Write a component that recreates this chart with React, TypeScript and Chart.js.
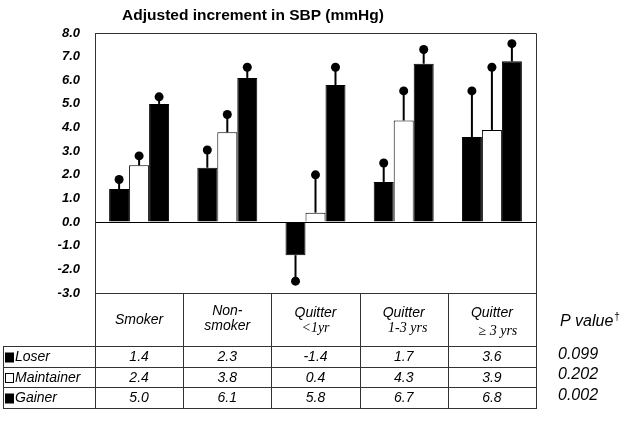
import React, { useEffect, useRef } from "react";
import { Chart, registerables } from "chart.js";
Chart.register(...registerables);

const categories = ["Smoker", "Non-smoker", "Quitter <1yr", "Quitter 1-3 yrs", "Quitter ≥3 yrs"];
const headerMain = [["Smoker"], ["Non-", "smoker"], ["Quitter"], ["Quitter"], ["Quitter"]];
const headerSub = ["", "", "<1yr", "1-3 yrs", "≥ 3 yrs"];
const seriesNames = ["Loser", "Maintainer", "Gainer"];
const loser = [1.4, 2.3, -1.4, 1.7, 3.6];
const maintainer = [2.4, 3.8, 0.4, 4.3, 3.9];
const gainer = [5.0, 6.1, 5.8, 6.7, 6.8];
const loserErr = [1.8, 3.05, -2.5, 2.5, 5.55];
const maintainerErr = [2.8, 4.55, 2.0, 5.55, 6.55];
const gainerErr = [5.3, 6.55, 6.55, 7.3, 7.55];
const pValues = ["0.099", "0.202", "0.002"];
const title = "Adjusted increment in SBP (mmHg)";
const pHeader = "P value";

const SANS = 'Arial, "Liberation Sans", sans-serif';
const SERIF = '"Times New Roman", "Liberation Serif", serif';

const errs = [loserErr, maintainerErr, gainerErr];
const seriesValues = [loser, maintainer, gainer];
const fills = ["#000", "#fff", "#000"];

const overlay = {
  id: "overlay",
  afterDatasetsDraw(chart: any) {
    const ctx = chart.ctx;
    const y = chart.scales.y;
    ctx.save();
    chart.data.datasets.forEach((ds: any, di: number) => {
      const meta = chart.getDatasetMeta(di);
      meta.data.forEach((bar: any, i: number) => {
        const e = errs[di][i];
        const y0 = bar.y;
        const y1 = y.getPixelForValue(e);
        ctx.strokeStyle = "#000";
        ctx.lineWidth = 2;
        ctx.beginPath();
        ctx.moveTo(bar.x, y0);
        ctx.lineTo(bar.x, y1);
        ctx.stroke();
        ctx.fillStyle = "#000";
        ctx.beginPath();
        ctx.arc(bar.x, y1, 4.5, 0, Math.PI * 2);
        ctx.fill();
      });
    });
    ctx.restore();
  },
  afterDraw(chart: any) {
    const ctx = chart.ctx;
    const a = chart.chartArea;
    ctx.save();
    // plot box
    ctx.strokeStyle = "#333";
    ctx.lineWidth = 1;
    ctx.beginPath();
    ctx.moveTo(a.left + 0.5, a.top + 0.5);
    ctx.lineTo(a.right + 0.5, a.top + 0.5);
    ctx.lineTo(a.right + 0.5, a.bottom + 0.5);
    ctx.stroke();
    // title
    ctx.fillStyle = "#000";
    ctx.font = `bold 15.5px ${SANS}`;
    ctx.textAlign = "center";
    ctx.textBaseline = "middle";
    ctx.fillText(title, 253, 16);

    // table
    const n = categories.length;
    const cw = (a.right - a.left) / n;
    const hTop = a.bottom;
    const rowTops = [346, 367, 387];
    const tBottom = 408;
    const tLeft = 3;
    ctx.strokeStyle = "#333";
    ctx.lineWidth = 1;
    ctx.beginPath();
    // horizontal lines
    ctx.moveTo(a.left, hTop + 0.5);
    ctx.lineTo(a.right + 1, hTop + 0.5);
    rowTops.forEach((t) => {
      ctx.moveTo(tLeft, t + 0.5);
      ctx.lineTo(a.right + 1, t + 0.5);
    });
    ctx.moveTo(tLeft, tBottom + 0.5);
    ctx.lineTo(a.right + 1, tBottom + 0.5);
    // vertical lines
    for (let i = 0; i <= n; i++) {
      const x = Math.round(a.left + i * cw) + 0.5;
      ctx.moveTo(x, hTop);
      ctx.lineTo(x, tBottom + 1);
    }
    ctx.moveTo(tLeft + 0.5, rowTops[0]);
    ctx.lineTo(tLeft + 0.5, tBottom + 1);
    ctx.stroke();

    // header text
    ctx.fillStyle = "#000";
    ctx.textAlign = "center";
    ctx.textBaseline = "middle";
    for (let i = 0; i < n; i++) {
      const cx = a.left + (i + 0.5) * cw;
      const lines = headerMain[i];
      ctx.font = `italic 14px ${SANS}`;
      if (headerSub[i]) {
        ctx.fillText(lines[0], cx, 313);
        ctx.font = `italic 14px ${SERIF}`;
        ctx.fillText(headerSub[i], cx + (i === 4 ? 6 : i === 3 ? 4 : 0), i === 4 ? 331 : 328);
      } else if (lines.length === 2) {
        ctx.fillText(lines[0], cx, 311);
        ctx.fillText(lines[1], cx, 326);
      } else {
        ctx.fillText(lines[0], cx, 320);
      }
    }
    // rows
    for (let r = 0; r < seriesNames.length; r++) {
      const top = rowTops[r];
      const bot = r + 1 < rowTops.length ? rowTops[r + 1] : tBottom;
      const cy = (top + bot) / 2 + 1;
      // swatch
      ctx.fillStyle = fills[r];
      ctx.fillRect(5.5, cy - 4.5, 8, 9);
      ctx.strokeStyle = "#000";
      ctx.lineWidth = 1;
      ctx.strokeRect(5.5, cy - 4.5, 8, 9);
      ctx.fillStyle = "#000";
      ctx.font = `italic 14px ${SANS}`;
      ctx.textAlign = "left";
      ctx.fillText(seriesNames[r], 15, cy);
      ctx.textAlign = "center";
      for (let i = 0; i < n; i++) {
        const cx = a.left + (i + 0.5) * cw;
        ctx.fillText(seriesValues[r][i].toFixed(1), cx, cy);
      }
      ctx.font = `italic 16px ${SANS}`;
      ctx.textAlign = "left";
      ctx.fillText(pValues[r], 558, cy - 3);
    }
    ctx.font = `italic 16px ${SANS}`;
    ctx.textAlign = "left";
    ctx.fillText(pHeader, 560, 322);
    const w = ctx.measureText(pHeader).width;
    ctx.font = `10px ${SANS}`;
    ctx.fillText("†", 560 + w + 1, 317);
    ctx.restore();
  },
};

export default function App() {
  const ref = useRef<HTMLCanvasElement | null>(null);
  useEffect(() => {
    if (!ref.current) return;
    const chart = new Chart(ref.current, {
      type: "bar",
      data: {
        labels: categories,
        datasets: seriesNames.map((name, i) => ({
          label: name,
          data: seriesValues[i],
          backgroundColor: fills[i],
          borderColor: "#000",
          borderWidth: 1,
          categoryPercentage: 0.68,
          barPercentage: 1,
        })),
      },
      options: {
        responsive: false,
        animation: false,
        layout: { padding: { left: 0, top: 33, right: 89, bottom: 137 } },
        plugins: { legend: { display: false }, tooltip: { enabled: false }, title: { display: false } },
        scales: {
          x: { display: false },
          y: {
            min: -3,
            max: 8,
            afterFit: (s: any) => {
              s.width = 95;
            },
            ticks: {
              stepSize: 1,
              callback: (v: any) => Number(v).toFixed(1),
              font: { family: SANS, size: 13, weight: "bold", style: "italic" },
              color: "#000",
              padding: 15,
            },
            grid: {
              drawTicks: false,
              color: (c: any) => (c.tick && c.tick.value === 0 ? "#000" : "rgba(0,0,0,0)"),
              lineWidth: 1,
            },
            border: { display: true, color: "#333" },
          },
        },
      } as any,
      plugins: [overlay],
    });
    return () => chart.destroy();
  }, []);
  return (
    <div style={{ position: "fixed", left: 0, top: 0, width: 625, height: 430, background: "#fff" }}>
      <canvas ref={ref} width={625} height={430} style={{ display: "block" }} />
    </div>
  );
}
